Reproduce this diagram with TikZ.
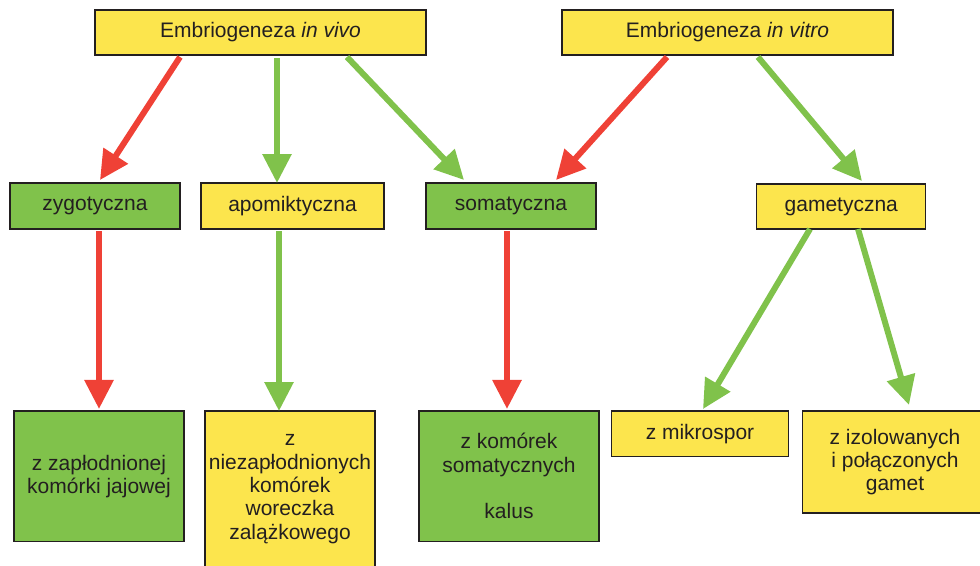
\documentclass[tikz,border=0pt]{standalone}
\usepackage{fontspec}
\setmainfont{Liberation Sans}
\usetikzlibrary{arrows.meta}
\definecolor{cfce54d}{RGB}{252,229,77}
\definecolor{c80c24b}{RGB}{128,194,75}
\definecolor{cef4136}{RGB}{239,65,54}
\definecolor{c231f20}{RGB}{35,31,32}

\begin{document}
\begin{tikzpicture}[y=-0.75pt, x=0.75pt, inner sep=0pt, outer sep=0pt,
  box/.style={draw=c231f20, line width=0.9pt, text=c231f20, align=center,
    font=\fontsize{15.75}{17.5}\selectfont},
  yellowbox/.style={box, fill=cfce54d},
  greenbox/.style={box, fill=c80c24b},
  redarrow/.style={draw=cef4136, line width=4.5pt,
    -{Triangle[length=21.75pt,width=21pt]}},
  greenarrow/.style={draw=c80c24b, line width=4.5pt,
    -{Triangle[length=21.75pt,width=21pt]}}]
  \useasboundingbox (0,0) rectangle (980,565);

  % top row
  \node[yellowbox, minimum width=248.25pt, minimum height=33.75pt] (invivo)
    at (260.5,32.5) {Embriogeneza \textit{in vivo}};
  \node[yellowbox, minimum width=248.25pt, minimum height=33.75pt] (invitro)
    at (727.5,32.5) {Embriogeneza \textit{in vitro}};

  % middle row
  \node[greenbox, minimum width=127.5pt, minimum height=34.5pt] (zyg)
    at (95,206) {zygotyczna};
  \node[yellowbox, minimum width=137.25pt, minimum height=34.5pt] (apo)
    at (292.5,206) {apomiktyczna};
  \node[greenbox, minimum width=127.5pt, minimum height=34.5pt] (som)
    at (511,206) {somatyczna};
  \node[yellowbox, minimum width=126.75pt, minimum height=33.75pt] (gam)
    at (841.3,206.5) {gametyczna};

  % bottom row
  \node[greenbox, minimum width=127.5pt, minimum height=98pt] (zygb)
    at (99,476.3) {z zapłodnionej\\komórki jajowej};
  \node[yellowbox, minimum width=127.5pt, minimum height=117pt] (apob)
    at (290,489) {z\\niezapłodnionych\\komórek\\woreczka\\zalążkowego};
  \node[greenbox, minimum width=135pt, minimum height=98pt] (somb)
    at (509,476.3) {z komórek\\somatycznych\\[17.5pt]kalus};
  \node[yellowbox, minimum width=132.5pt, minimum height=34pt] (mik)
    at (700,433.7) {z mikrospor};
  \node[yellowbox, minimum width=138.5pt, minimum height=76.5pt] (izo)
    at (895,462) {z izolowanych\\i połączonych\\gamet};

  % arrows
  \draw[redarrow] ([shift={(-80.5,2)}]invivo.south) -- ([shift={(5,-3)}]zyg.north);
  \draw[greenarrow] ([shift={(16.5,3)}]invivo.south) -- ([shift={(-15.5,0)}]apo.north);
  \draw[greenarrow] ([shift={(86.5,2)}]invivo.south) -- ([shift={(-47,-3)}]som.north);
  \draw[redarrow] ([shift={(-60.5,2)}]invitro.south) -- ([shift={(45,-3)}]som.north);
  \draw[greenarrow] ([shift={(30.5,2)}]invitro.south) -- ([shift={(20.7,-3)}]gam.north);
  \draw[redarrow] ([shift={(4,2)}]zyg.south) -- ([shift={(0,-2)}]zygb.north);
  \draw[greenarrow] ([shift={(-13.5,2)}]apo.south) -- ([shift={(-11,0)}]apob.north);
  \draw[redarrow] ([shift={(-4,2)}]som.south) -- ([shift={(-2,-2)}]somb.north);
  \draw[greenarrow] ([shift={(-31.3,0)}]gam.south) -- ([shift={(3,-2)}]mik.north);
  \draw[greenarrow] ([shift={(16.7,0)}]gam.south) -- ([shift={(14,-6)}]izo.north);
\end{tikzpicture}
\end{document}
